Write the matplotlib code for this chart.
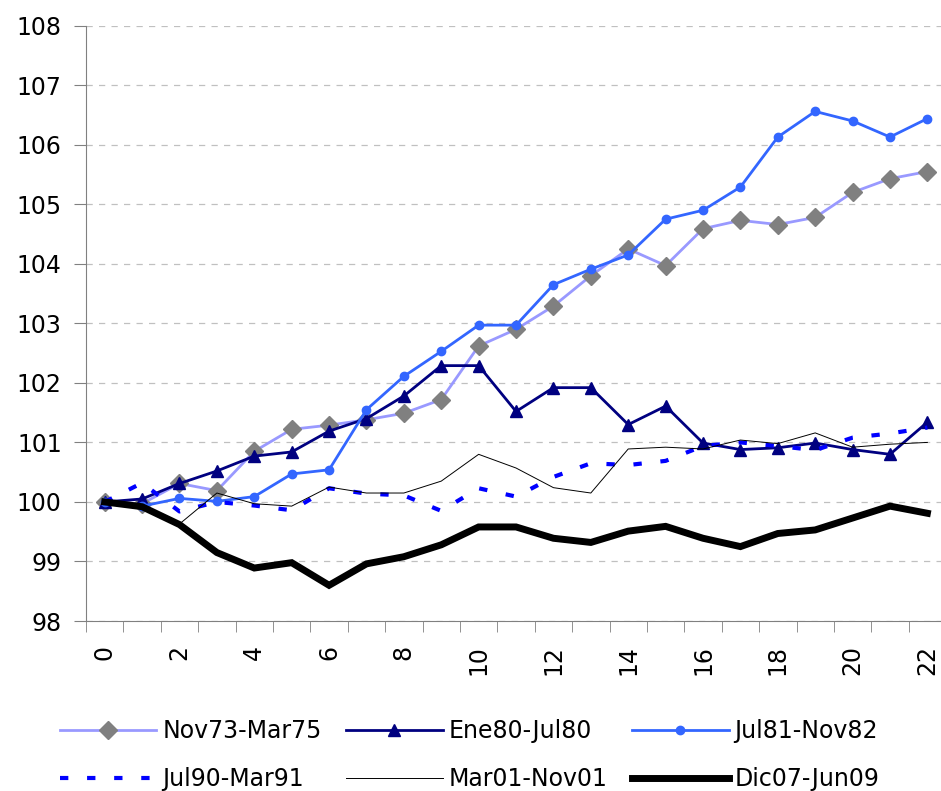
import numpy as np
import matplotlib
matplotlib.use("Agg")
import matplotlib.pyplot as plt

plt.rcParams['font.family'] = ['DejaVu Sans']

months = np.arange(23)
nov73_mar75 = [100.0, 99.97, 100.31, 100.19, 100.85, 101.22, 101.29, 101.38, 101.49, 101.72,
               102.62, 102.9, 103.29, 103.8, 104.25, 103.97, 104.59, 104.73, 104.66, 104.78,
               105.2, 105.43, 105.55]
ene80_jul80 = [100.0, 100.05, 100.31, 100.52, 100.77, 100.84, 101.19, 101.4, 101.78, 102.29,
               102.29, 101.52, 101.92, 101.92, 101.3, 101.61, 100.99, 100.88, 100.91, 100.99,
               100.88, 100.8, 101.34]
jul81_nov82 = [100.0, 99.93, 100.06, 100.01, 100.09, 100.47, 100.54, 101.55, 102.11, 102.53,
               102.97, 102.97, 103.65, 103.91, 104.15, 104.75, 104.9, 105.29, 106.13, 106.56,
               106.4, 106.13, 106.44]
jul90_mar91 = [100.0, 100.32, 99.84, 100.0, 99.94, 99.86, 100.23, 100.14, 100.11, 99.85,
               100.23, 100.09, 100.42, 100.65, 100.62, 100.69, 100.94, 101.0, 100.94, 100.87,
               101.08, 101.15, 101.25]
mar01_nov01 = [100.0, 99.9, 99.63, 100.15, 99.97, 99.93, 100.25, 100.15, 100.15, 100.35,
               100.8, 100.57, 100.24, 100.15, 100.89, 100.92, 100.89, 101.04, 100.98, 101.16,
               100.92, 100.97, 101.0]
dic07_jun09 = [100.0, 99.92, 99.62, 99.15, 98.89, 98.98, 98.6, 98.96, 99.08, 99.28,
               99.58, 99.58, 99.39, 99.32, 99.51, 99.59, 99.39, 99.25, 99.47, 99.53,
               99.73, 99.93, 99.81]

fig = plt.figure(figsize=(9.41, 7.91), dpi=100)
ax = fig.add_axes([0.0914, 0.2149, 0.914, 0.7526])

l1, = ax.plot(months, nov73_mar75, color='#9999FF', lw=2, marker='D', ms=9,
              mfc='#808080', mec='#808080', label='Nov73-Mar75')
l2, = ax.plot(months, ene80_jul80, color='#000080', lw=2, marker='^', ms=8,
              mfc='#000080', mec='#000080', label='Ene80-Jul80')
l3, = ax.plot(months, jul81_nov82, color='#3366FF', lw=2, marker='o', ms=6,
              mfc='#3366FF', mec='#3366FF', label='Jul81-Nov82')
l4, = ax.plot(months, jul90_mar91, color='#0000FF', lw=3, dashes=(2, 4.5),
              dash_capstyle='butt', label='Jul90-Mar91')
l5, = ax.plot(months, mar01_nov01, color='#000000', lw=0.7, label='Mar01-Nov01')
l6, = ax.plot(months, dic07_jun09, color='#000000', lw=5, solid_joinstyle='miter',
              label='Dic07-Jun09')

ax.set_xlim(-0.5, 22.5)
ax.set_ylim(98, 108)
ax.set_yticks(np.arange(98, 109, 1))
ax.set_xticks(np.arange(0, 23, 2))
ax.set_xticklabels([str(i) for i in range(0, 23, 2)], rotation=90)
ax.set_xticks(np.arange(-0.5, 23, 1), minor=True)
ax.tick_params(axis='x', which='major', length=0, pad=17, labelsize=17)
ax.tick_params(axis='x', which='minor', length=8, color='#808080', direction='out')
ax.tick_params(axis='y', length=9, color='#808080', pad=8.5, labelsize=17)

ax.grid(axis='y', color='#C0C0C0', ls=(0, (5, 5)), lw=0.9)
ax.set_axisbelow(True)
for s in ['top', 'right']:
    ax.spines[s].set_visible(False)
for s in ['left', 'bottom']:
    ax.spines[s].set_color('#808080')

handles = [l1, l4, l2, l5, l3, l6]
fig.legend(handles=handles, labels=[h.get_label() for h in handles], ncol=3,
           loc='center', bbox_to_anchor=(0.499, 0.0455), frameon=False, fontsize=17,
           handlelength=4.1, handletextpad=0.25, columnspacing=1.03, labelspacing=1.0)

fig.savefig('out.png', dpi=100)
